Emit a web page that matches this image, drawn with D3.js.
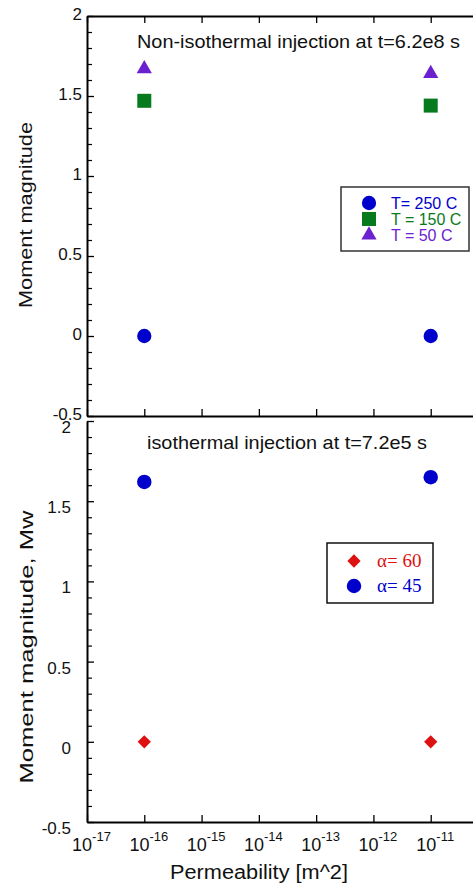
<!DOCTYPE html>
<html>
<head>
<meta charset="utf-8">
<script src="https://cdn.jsdelivr.net/npm/d3@7"></script>
<style>
  html, body { margin: 0; padding: 0; background: #fff; }
  svg { display: block; font-family: "Liberation Sans", Arial, sans-serif; }
</style>
</head>
<body>
<script>
// ---- data ----
const permeability = [1e-16, 1e-11];
const mwT250 = [0, 0];
const mwT150 = [1.47, 1.44];
const mwT50 = [1.67, 1.64];
const mwAlpha60 = [0, 0];
const mwAlpha45 = [1.62, 1.65];
const decadeExponents = [-17, -16, -15, -14, -13, -12, -11];
const yMajorTicks = [-0.5, 0, 0.5, 1, 1.5, 2];
const topLegend = ["T= 250 C", "T = 150 C", "T = 50 C"];
const bottomLegend = ["\u03b1= 60", "\u03b1= 45"];

const W = 473, H = 885;
const blue = "#0000cc", green = "#087a1e", purple = "#6b21cf", red = "#dd1111";

const svg = d3.select("body").append("svg").attr("width", W).attr("height", H);

const x = d3.scaleLog().domain([1e-17, 1e-10]).range([87, 488]);
const yTop = d3.scaleLinear().domain([-0.5, 2]).range([416, 16]);
const yBot = d3.scaleLinear().domain([-0.5, 2]).range([822, 421]);
const decades = decadeExponents.map(e => Math.pow(10, e));
const minorY = d3.range(-4, 20).map(i => i / 10).filter(v => !yMajorTicks.some(m => Math.abs(m - v) < 1e-9));

function styleAxis(g) {
  g.select(".domain").attr("stroke", "#000").attr("stroke-width", 2);
  g.selectAll(".tick line").attr("stroke", "#000").attr("stroke-width", 1.3);
  g.selectAll("text").attr("font-size", 17).attr("fill", "#111")
    .attr("font-family", "'Liberation Sans', Arial, sans-serif");
}

function panel(y, labelShift, labelPad) {
  const gl = svg.append("g").attr("transform", "translate(87,0)")
    .call(d3.axisLeft(y).tickValues(yMajorTicks).tickSize(-7).tickSizeOuter(0)
      .tickPadding(labelPad).tickFormat(d => String(d)));
  styleAxis(gl);
  gl.selectAll("text").attr("transform", `translate(0,${labelShift})`);
  const gm = svg.append("g").attr("transform", "translate(87,0)")
    .call(d3.axisLeft(y).tickValues(minorY).tickSize(-5).tickSizeOuter(0).tickFormat(""));
  gm.select(".domain").remove();
  gm.selectAll(".tick line").attr("stroke", "#000").attr("stroke-width", 1.2);
}

// ---- top panel ----
panel(yTop, -2, 5);
const gTopB = svg.append("g").attr("transform", `translate(0,${yTop(-0.5)})`)
  .call(d3.axisBottom(x).tickValues(decades).tickSize(-7).tickSizeOuter(0).tickFormat(""));
styleAxis(gTopB);
const gTopT = svg.append("g").attr("transform", `translate(0,${yTop(2)})`)
  .call(d3.axisTop(x).tickValues(decades).tickSize(-7).tickSizeOuter(0).tickFormat(""));
styleAxis(gTopT);

// ---- bottom panel ----
panel(yBot, 6, 16);
const gBotB = svg.append("g").attr("transform", `translate(0,${yBot(-0.5)})`)
  .call(d3.axisBottom(x).tickValues(decades).tickSize(-7).tickSizeOuter(0).tickFormat(""));
styleAxis(gBotB);
gBotB.selectAll(".tick").each(function (d, i) {
  const t = d3.select(this).append("text")
    .attr("x", 4).attr("y", 29).attr("text-anchor", "middle")
    .attr("fill", "#111").attr("font-size", 18)
    .attr("font-family", "'Liberation Sans', Arial, sans-serif");
  t.append("tspan").text("10");
  t.append("tspan").attr("dy", -10).attr("font-size", 13).text(String(decadeExponents[i]));
});

// ---- markers ----
const sym = (type, size) => d3.symbol().type(type).size(size)();
function plotSeries(yScale, vals, type, size, color, rot) {
  svg.append("g").selectAll("path").data(vals).join("path")
    .attr("d", sym(type, size))
    .attr("transform", (d, i) => `translate(${x(permeability[i])},${yScale(d)})` + (rot ? ` rotate(${rot})` : ""))
    .attr("fill", color);
}
plotSeries(yTop, mwT250, d3.symbolCircle, 160, blue);
plotSeries(yTop, mwT150, d3.symbolSquare, 196, green);
plotSeries(yTop, mwT50, d3.symbolTriangle, 100, purple);
plotSeries(yBot, mwAlpha60, d3.symbolSquare, 88, red, 45);
plotSeries(yBot, mwAlpha45, d3.symbolCircle, 165, blue);

// ---- titles ----
svg.append("text").attr("x", 137).attr("y", 48).attr("font-size", 19).attr("fill", "#111")
  .attr("textLength", 323).attr("lengthAdjust", "spacingAndGlyphs")
  .text("Non-isothermal injection at t=6.2e8 s");
svg.append("text").attr("x", 147).attr("y", 449).attr("font-size", 19).attr("fill", "#111")
  .attr("textLength", 280).attr("lengthAdjust", "spacingAndGlyphs")
  .text("isothermal injection at t=7.2e5 s");
svg.append("text").attr("x", 259).attr("y", 879).attr("text-anchor", "middle")
  .attr("font-size", 20).attr("fill", "#111")
  .attr("textLength", 178).attr("lengthAdjust", "spacingAndGlyphs")
  .text("Permeability [m^2]");
svg.append("text").attr("transform", "translate(32,215) rotate(-90)")
  .attr("text-anchor", "middle").attr("font-size", 19).attr("fill", "#111")
  .attr("textLength", 186).attr("lengthAdjust", "spacingAndGlyphs")
  .text("Moment magnitude");
svg.append("text").attr("transform", "translate(33,647) rotate(-90)")
  .attr("text-anchor", "middle").attr("font-size", 19).attr("fill", "#111")
  .attr("textLength", 273).attr("lengthAdjust", "spacingAndGlyphs")
  .text("Moment magnitude, Mw");

// ---- legends ----
const lt = svg.append("g");
lt.append("rect").attr("x", 341).attr("y", 187).attr("width", 128).attr("height", 64)
  .attr("fill", "#fff").attr("stroke", "#333").attr("stroke-width", 1.5);
const topSyms = [[d3.symbolCircle, 160, blue], [d3.symbolSquare, 196, green], [d3.symbolTriangle, 100, purple]];
topLegend.forEach((lab, i) => {
  const cy = 203 + i * 16;
  lt.append("path").attr("d", sym(topSyms[i][0], topSyms[i][1]))
    .attr("transform", `translate(369,${cy})`).attr("fill", topSyms[i][2]);
  lt.append("text").attr("x", 391).attr("y", cy + 6).attr("font-size", 16)
    .attr("fill", topSyms[i][2]).text(lab);
});

const lb = svg.append("g");
lb.append("rect").attr("x", 327).attr("y", 543).attr("width", 106).attr("height", 60)
  .attr("fill", "#fff").attr("stroke", "#111").attr("stroke-width", 1.5);
const botSyms = [[d3.symbolSquare, 88, red, 45], [d3.symbolCircle, 165, blue, 0]];
bottomLegend.forEach((lab, i) => {
  const cy = 561 + i * 25;
  lb.append("path").attr("d", sym(botSyms[i][0], botSyms[i][1]))
    .attr("transform", `translate(354,${cy}) rotate(${botSyms[i][3]})`).attr("fill", botSyms[i][2]);
  lb.append("text").attr("x", 377).attr("y", cy + 6).attr("font-size", 19)
    .attr("font-family", "'Liberation Serif', 'Times New Roman', serif")
    .attr("fill", botSyms[i][2]).text(lab);
});
</script>
</body>
</html>
